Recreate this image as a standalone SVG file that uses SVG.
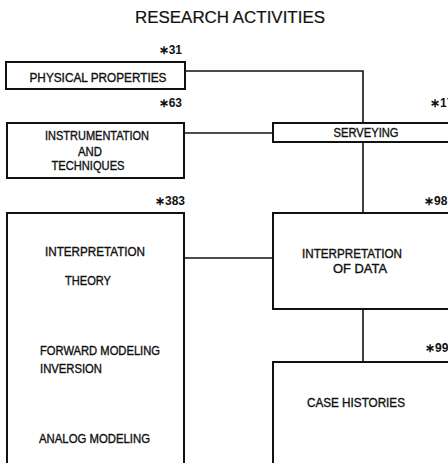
<svg xmlns="http://www.w3.org/2000/svg" width="448" height="463" viewBox="0 0 448 463">
<style>
.box{fill:#fff;stroke:#111;stroke-width:2}
.ln{fill:none;stroke:#111;stroke-width:1.6}
text{font-family:"Liberation Sans",Arial,sans-serif;fill:#111;font-size:12px;stroke:#111;stroke-width:0.35}
.c{text-anchor:middle}
.n{font-size:12px;font-weight:bold;stroke-width:0}
.e{text-anchor:end}
.t{font-size:16.5px;stroke-width:0.2}
</style>
<rect width="448" height="463" fill="#fff"/>
<text class="t c" x="230" y="23" textLength="190" lengthAdjust="spacingAndGlyphs">RESEARCH ACTIVITIES</text>
<g id="connectors">
<polyline class="ln" points="185,71 363,71 363,123"/>
<line class="ln" x1="184" y1="133" x2="273" y2="133"/>
<line class="ln" x1="363" y1="142" x2="363" y2="213"/>
<line class="ln" x1="184" y1="258" x2="273" y2="258"/>
<line class="ln" x1="363" y1="309" x2="363" y2="362"/>
</g>
<g id="physical-properties">
<text class="n e" x="182" y="54">∗31</text>
<rect class="box" x="6" y="62" width="179" height="27"/>
<text class="c" x="98" y="82" textLength="137" lengthAdjust="spacingAndGlyphs">PHYSICAL PROPERTIES</text>
</g>
<g id="instrumentation">
<text class="n e" x="182" y="107">∗63</text>
<rect class="box" x="7" y="123" width="177" height="55"/>
<text class="c" x="97" y="140" textLength="104" lengthAdjust="spacingAndGlyphs">INSTRUMENTATION</text>
<text class="c" x="90" y="156" textLength="24" lengthAdjust="spacingAndGlyphs">AND</text>
<text class="c" x="88" y="170" textLength="73" lengthAdjust="spacingAndGlyphs">TECHNIQUES</text>
</g>
<g id="serveying">
<text class="n" x="430" y="107">∗17</text>
<rect class="box" x="273" y="123" width="185" height="19"/>
<text class="c" x="366" y="137" textLength="65" lengthAdjust="spacingAndGlyphs">SERVEYING</text>
</g>
<g id="interpretation-theory">
<text class="n e" x="185" y="205">∗383</text>
<rect class="box" x="7" y="213" width="177" height="260"/>
<text class="c" x="95" y="256" textLength="100" lengthAdjust="spacingAndGlyphs">INTERPRETATION</text>
<text class="c" x="88" y="285" textLength="46" lengthAdjust="spacingAndGlyphs">THEORY</text>
<text class="c" x="100" y="355" textLength="120" lengthAdjust="spacingAndGlyphs">FORWARD MODELING</text>
<text x="40" y="373" textLength="62" lengthAdjust="spacingAndGlyphs">INVERSION</text>
<text x="39" y="443" textLength="111" lengthAdjust="spacingAndGlyphs">ANALOG MODELING</text>
</g>
<g id="interpretation-of-data">
<text class="n" x="424" y="205">∗98</text>
<rect class="box" x="273" y="213" width="185" height="96"/>
<text class="c" x="352" y="258" textLength="100" lengthAdjust="spacingAndGlyphs">INTERPRETATION</text>
<text class="c" x="360" y="273" textLength="54" lengthAdjust="spacingAndGlyphs">OF DATA</text>
</g>
<g id="case-histories">
<text class="n" x="425" y="352">∗99</text>
<rect class="box" x="273" y="362" width="185" height="111"/>
<text x="307" y="407" textLength="98" lengthAdjust="spacingAndGlyphs">CASE HISTORIES</text>
</g>
</svg>
